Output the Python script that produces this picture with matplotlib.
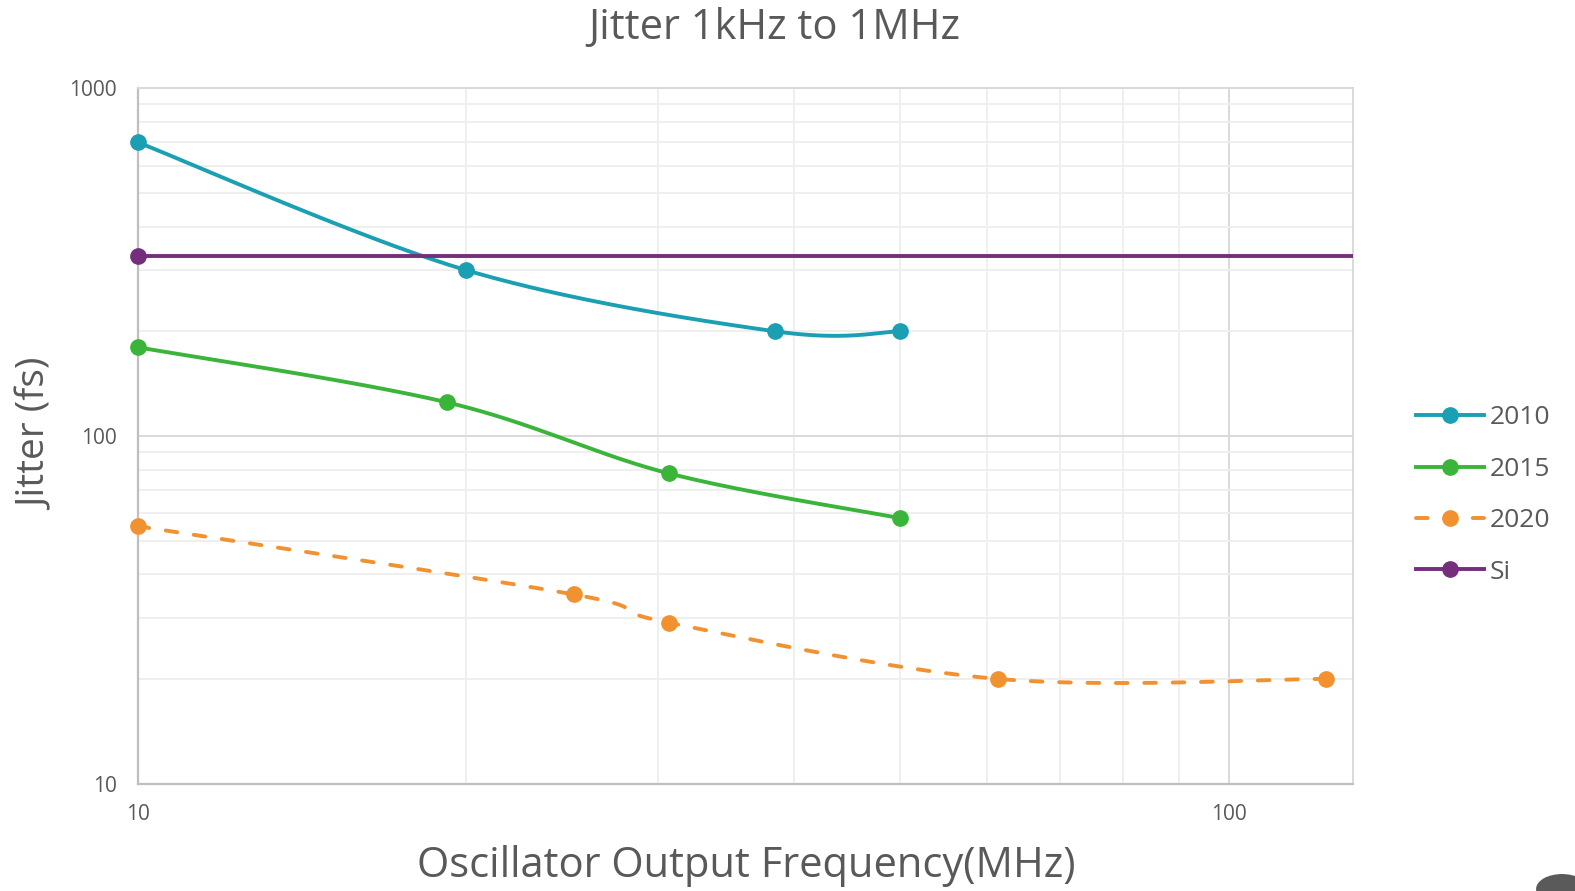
import numpy as np
import matplotlib
matplotlib.use("Agg")
import matplotlib.pyplot as plt
from matplotlib.ticker import FixedLocator, NullFormatter, FixedFormatter
from matplotlib.patches import Circle

plt.rcParams['font.family'] = ['Open Sans', 'DejaVu Sans']

# frequency (MHz) and jitter (fs) for each generation
freq_2010 = [10, 20, 38.4, 50]
jit_2010 = [700, 300, 200, 200]

freq_2015 = [10, 19.2, 30.7, 50]
jit_2015 = [180, 125, 78, 58]

freq_2020 = [10, 25.1, 30.7, 61.4, 122.8]
jit_2020 = [55, 35, 29, 20, 20]

freq_si = [10, 140]
jit_si = [330, 330]

text_col = '#595959'

# axes box in pixels
L, R, T, B = 137.6, 1353, 88.4, 783.5
XDEC = (R - L) / np.log10(13.0)   # px per decade on x
YDEC = (B - T) / 2.0              # px per decade on y


def smooth(xs, ys, n=60):
    # bezier smoothing through the points, done in screen proportions
    lx = np.log10(xs) * XDEC
    ly = np.log10(ys) * YDEC
    if len(lx) < 3:
        return np.asarray(xs), np.asarray(ys)
    px = np.concatenate([[lx[0]], lx, [lx[-1]]])
    py = np.concatenate([[ly[0]], ly, [ly[-1]]])
    outx, outy = [], []
    for i in range(1, len(px) - 2):
        p0x, p1x, p2x, p3x = px[i - 1:i + 3]
        p0y, p1y, p2y, p3y = py[i - 1:i + 3]
        c1x = p1x + (p2x - p0x) / 6
        c1y = p1y + (p2y - p0y) / 6
        c2x = p2x - (p3x - p1x) / 6
        c2y = p2y - (p3y - p1y) / 6
        t = np.linspace(0, 1, n)
        bx = (1-t)**3*p1x + 3*(1-t)**2*t*c1x + 3*(1-t)*t**2*c2x + t**3*p2x
        by = (1-t)**3*p1y + 3*(1-t)**2*t*c1y + 3*(1-t)*t**2*c2y + t**3*p2y
        outx.append(bx)
        outy.append(by)
    return 10**(np.concatenate(outx) / XDEC), 10**(np.concatenate(outy) / YDEC)


fig = plt.figure(figsize=(15.75, 8.91), dpi=100)
ax = fig.add_axes([L/1575, 1 - B/891, (R-L)/1575, (B-T)/891])
ax.set_xscale('log')
ax.set_yscale('log')
ax.set_xlim(10, 130)
ax.set_ylim(10, 1000)

series = [
    ('2010', freq_2010, jit_2010, '#1a9fb3', '-'),
    ('2015', freq_2015, jit_2015, '#3ab53a', '-'),
    ('2020', freq_2020, jit_2020, '#f29130', (0, (3, 4.3))),
    ('Si', freq_si, jit_si, '#742e7c', '-'),
]
for name, xs, ys, col, ls in series:
    sx, sy = smooth(xs, ys)
    ax.plot(sx, sy, color=col, lw=2.8, ls=ls, dash_capstyle='round',
            solid_capstyle='butt', zorder=3)
    inside = [(x, y) for x, y in zip(xs, ys) if x <= 130]
    ax.plot([p[0] for p in inside], [p[1] for p in inside], 'o', color=col,
            ms=11, zorder=4, clip_on=False)
    ax.plot([], [], color=col, lw=2.8, ls=ls, marker='o', ms=11,
            dash_capstyle='round', label=name)

ax.xaxis.set_major_locator(FixedLocator([10, 100]))
ax.xaxis.set_major_formatter(FixedFormatter(['10', '100']))
ax.xaxis.set_minor_locator(FixedLocator([20, 30, 40, 50, 60, 70, 80, 90]))
ax.xaxis.set_minor_formatter(NullFormatter())
ax.yaxis.set_major_locator(FixedLocator([10, 100, 1000]))
ax.yaxis.set_major_formatter(FixedFormatter(['10', '100', '1000']))
ax.yaxis.set_minor_locator(FixedLocator([v * d for d in (10, 100) for v in range(2, 10)]))
ax.yaxis.set_minor_formatter(NullFormatter())

ax.grid(which='major', color='#d9d9d9', lw=1.4)
ax.grid(which='minor', color='#efefef', lw=1.4)
ax.set_axisbelow(True)
ax.tick_params(which='both', length=0, labelsize=15, colors=text_col)
ax.tick_params(axis='x', pad=15)
ax.tick_params(axis='y', pad=15)
for s in ('left', 'bottom'):
    ax.spines[s].set_color('#bfbfbf')
    ax.spines[s].set_linewidth(1.6)
for s in ('top', 'right'):
    ax.spines[s].set_color('#d9d9d9')
    ax.spines[s].set_linewidth(1.4)

fig.text(0.4916, 0.9686, 'Jitter 1kHz to 1MHz', ha='center', va='center',
         fontsize=30, color=text_col)
fig.text(0.0236, 0.512, 'Jitter (fs)', ha='center', va='center',
         rotation=90, fontsize=28, color=text_col)
fig.text(0.4735, 0.0283, 'Oscillator Output Frequency(MHz)', ha='center',
         va='center', fontsize=30, color=text_col)

leg = fig.legend(loc='center left', bbox_to_anchor=(1392/1575, 1 - 495/891),
                 frameon=False, fontsize=19, handlelength=2.6,
                 labelspacing=1.0, handletextpad=0.2)
for t in leg.get_texts():
    t.set_color(text_col)

fig.patches.append(Circle((1562/1575, 1 - 889/891), 0.016, transform=fig.transFigure,
                          color='#5a5a5a', zorder=10))

fig.savefig('out.png', dpi=100)
